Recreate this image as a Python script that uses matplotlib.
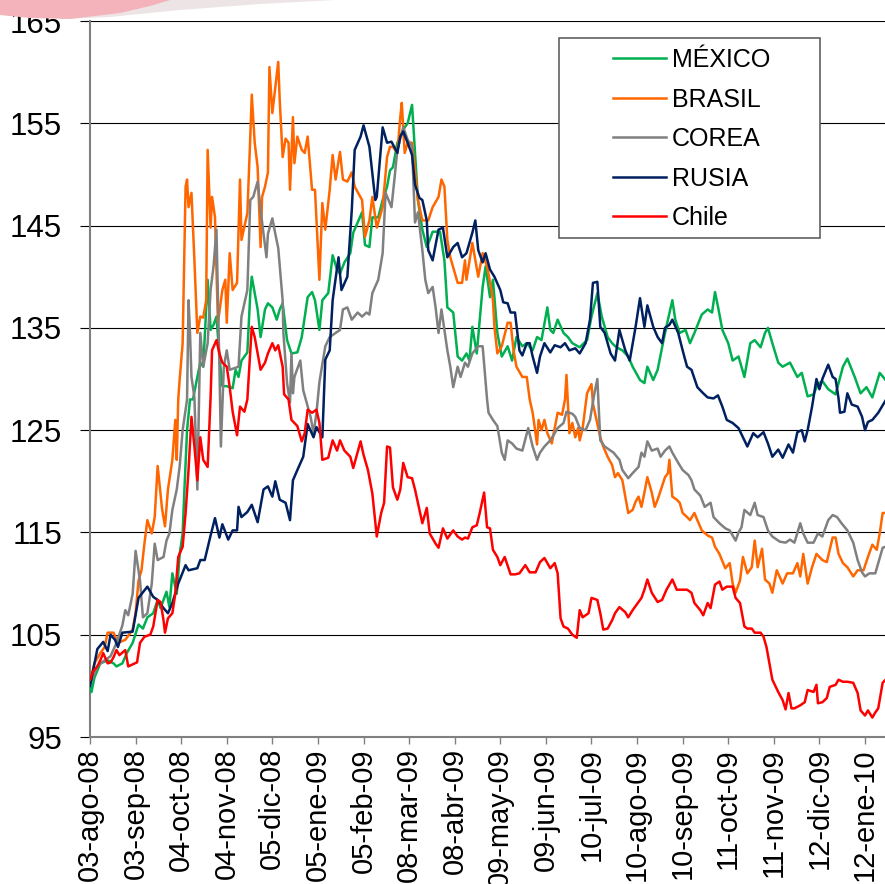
import matplotlib
matplotlib.use("Agg")
import matplotlib.pyplot as plt
from matplotlib.patches import Rectangle, Polygon

plt.rcParams['font.family'] = ['Liberation Sans', 'DejaVu Sans']

# x = days since 03-ago-08, y = index (base 100)
tick_labels = ["03-ago-08", "03-sep-08", "04-oct-08", "04-nov-08", "05-dic-08",
               "05-ene-09", "05-feb-09", "08-mar-09", "08-abr-09", "09-may-09",
               "09-jun-09", "10-jul-09", "10-ago-09", "10-sep-09", "11-oct-09",
               "11-nov-09", "12-dic-09", "12-ene-10"]
tick_step = 31
last_day = 540.6

mexico = [(0, 100), (1, 99.4), (3, 100.8), (7, 102.2), (12, 102.5), (16, 102.2), (18, 101.9), (22, 102.2),
          (25, 103.2), (29, 104.2), (33, 106), (36, 105.6), (39, 106.7), (43, 107.1), (46, 108.4),
          (48, 107.6), (52, 109.2), (54, 107.7), (56, 111), (59, 109), (61, 112.9), (63, 114.9),
          (64, 118.5), (65, 121.8), (66, 125), (68, 128), (70, 128), (73, 130.2), (75, 131.6),
          (77, 131.2), (80, 139.7), (82, 134.8), (84, 135.3), (86, 136.1), (88, 132.2), (90, 129.3),
          (93, 129.3), (97, 129.1), (99, 130.9), (101, 130.2), (103, 131.8), (107, 132.6), (109, 138.4),
          (110, 140), (114, 136.8), (116, 134.1), (119, 136.8), (121, 137.4), (124, 137), (127, 135.8),
          (129, 136.8), (131, 137.4), (134, 133.8), (137, 132.5), (141, 132.6), (144, 134.1), (148, 138),
          (151, 138.5), (153, 137.7), (156, 134.8), (158, 137.7), (162, 138.4), (165, 142.1), (168, 140.7),
          (170, 140.3), (173, 141.4), (177, 142.3), (179, 144.3), (182, 145.3), (185, 146.3), (187, 143.1),
          (190, 142.9), (192, 145.8), (196, 145.8), (199, 147.5), (202, 148.8), (204, 150.4), (206, 150.7),
          (209, 153.1), (212, 154), (214, 154.6), (216, 155), (219, 156.8), (221, 152.1), (223, 147.5),
          (226, 144.6), (229, 142.9), (231, 143.6), (233, 144.4), (238, 144.4), (241, 141.6), (243, 137),
          (247, 136.5), (250, 132.2), (253, 131.8), (256, 132.5), (258, 131.8), (260, 135.1), (263, 132.5),
          (267, 139), (269, 141), (272, 138), (274, 139.7), (277, 134.5), (280, 132.2), (284, 133.2),
          (287, 131.8), (290, 134.1), (294, 133.2), (297, 133.5), (301, 132.8), (304, 134.1), (307, 133.8),
          (311, 137), (313, 134.8), (315, 134.5), (318, 135.8), (322, 134.5), (325, 134.1), (328, 133.5),
          (333, 133.1), (338, 133.8), (341, 136.1), (345, 138.4), (348, 136.1), (352, 134.1), (355, 133.5),
          (358, 133.1), (362, 132.8), (366, 132.2), (369, 131.2), (374, 129.9), (377, 129.6), (379, 131.2),
          (383, 129.9), (386, 130.9), (390, 133.8), (393, 135.8), (396, 137.7), (398, 135.8), (401, 134.5),
          (405, 134.8), (408, 133.5), (411, 134.5), (416, 136.3), (420, 136.8), (423, 136.5), (425, 138.5),
          (427, 137.1), (430, 134.8), (434, 133.5), (437, 131.8), (441, 132.2), (445, 130.2), (449, 133.5),
          (452, 133.8), (456, 133.1), (459, 134.5), (461, 135), (464, 133.5), (468, 131.6), (471, 131.2),
          (476, 131.6), (481, 130.2), (484, 130.6), (488, 128.3), (492, 128.5), (495, 129.5), (498, 129.8),
          (502, 129), (507, 128.5), (512, 131.2), (515, 132), (520, 130.2), (524, 128.6), (528, 129.2),
          (532, 128.2), (537, 130.6), (541, 129.9)]

brasil = [(0, 100.3), (3, 102.2), (7, 103.2), (10, 103.8), (12, 105.2), (16, 105.2), (19, 104.2), (24, 104.5),
          (29, 105.5), (31, 107.1), (33, 110.3), (35, 111.3), (37, 113.9), (39, 116.2), (42, 114.9),
          (44, 116.5), (46, 121.5), (49, 117.3), (51, 115.6), (53, 119.2), (56, 122.1), (58, 126),
          (59, 122.1), (60, 128), (61, 130), (63, 133.5), (65, 148.8), (66, 149.5), (67, 146.8), (69, 148.2),
          (71, 141.6), (73, 134.5), (75, 136.1), (77, 136), (79, 137.7), (80, 152.4), (82, 144.8),
          (83, 147.8), (85, 145.8), (87, 135.5), (90, 138.7), (92, 139.7), (93, 135.5), (95, 142.3),
          (97, 138.7), (100, 139.4), (102, 149.5), (103, 143.6), (107, 146.2), (109, 153.7), (110, 157.8),
          (112, 153.1), (114, 150.7), (116, 142.9), (117, 147.8), (119, 148.8), (121, 150.2), (122, 160.5),
          (124, 156), (126, 158.5), (128, 161), (129, 157.3), (131, 151.7), (133, 153.5), (135, 153.1),
          (136, 148.5), (138, 155.6), (139, 151.1), (141, 153.7), (144, 152.4), (146, 152.1), (148, 153.7),
          (151, 148.5), (153, 148.5), (156, 139.7), (158, 147.2), (160, 144.6), (163, 148.5), (165, 151.9),
          (167, 149.5), (170, 152.2), (172, 149.5), (175, 149.3), (178, 150.2), (180, 148.8), (185, 147.5),
          (187, 143.9), (190, 145.5), (192, 147.8), (195, 144.8), (199, 146.8), (202, 151.7), (204, 152.7),
          (206, 152.7), (209, 152.1), (211, 155.6), (212, 157), (214, 152.1), (216, 153.1), (219, 153.1),
          (221, 150.4), (223, 147.5), (226, 145.5), (230, 145.5), (233, 146.8), (237, 147.8), (239, 149.5),
          (241, 148.8), (243, 143.6), (245, 141.9), (250, 139.4), (253, 139.4), (255, 141.6), (256, 139.7),
          (260, 143.3), (264, 140), (267, 142.3), (270, 141), (273, 138.7), (274, 137.7), (275, 135.1),
          (277, 132.5), (280, 133.2), (284, 135.5), (286, 135.5), (288, 132.8), (290, 131.2), (294, 130.2),
          (297, 130.2), (299, 128), (301, 126.7), (302, 125.7), (304, 123.6), (305, 126), (307, 125),
          (309, 126), (311, 124.7), (314, 123.7), (318, 126.7), (321, 126.5), (323, 128), (324, 130.4),
          (326, 124.7), (328, 125.7), (330, 124.3), (332, 125.2), (333, 124), (335, 125.2), (338, 128.6),
          (341, 129.5), (342, 127.6), (347, 124.3), (349, 123.4), (352, 122.4), (355, 121.6), (357, 120.4),
          (359, 120.8), (362, 120.1), (364, 118.5), (366, 116.9), (369, 117.2), (371, 118), (373, 118.5),
          (375, 117.5), (377, 118.9), (379, 120.4), (382, 118.9), (384, 117.5), (386, 118.2), (389, 119.5),
          (391, 120.4), (393, 120.8), (394, 122.1), (396, 118.5), (399, 118.2), (401, 117.9), (403, 116.9),
          (406, 116.5), (408, 116.2), (411, 116.9), (413, 116.2), (416, 115.2), (420, 114.7), (423, 114.5),
          (425, 113.6), (428, 112.9), (432, 111.5), (435, 112), (437, 110), (439, 109.1), (442, 110.3),
          (444, 112.6), (447, 111), (450, 111.6), (452, 114.2), (454, 111.6), (457, 113.4), (459, 110.4),
          (462, 110), (464, 109.1), (467, 111.3), (471, 110), (474, 111), (478, 111), (481, 112),
          (483, 110.7), (485, 112.9), (488, 110), (491, 111.6), (494, 112.9), (498, 112.3), (501, 112.1),
          (505, 114.5), (507, 114.5), (509, 112.9), (512, 112), (515, 111.6), (519, 110.7), (522, 111.3),
          (526, 111.3), (529, 112.6), (532, 113.8), (535, 113.3), (537, 114.9), (539, 116.9), (541, 116.9)]

corea = [(0, 100.1), (5, 101.9), (9, 102.4), (14, 102.9), (18, 104.2), (22, 105.9), (24, 107.4), (26, 106.9),
         (29, 109), (31, 113.2), (34, 110.3), (36, 106.7), (39, 107.1), (42, 110), (44, 113.9), (46, 112.3),
         (50, 112.6), (52, 114.2), (54, 114.9), (56, 117.2), (59, 119.2), (61, 121.5), (63, 125), (66, 128),
         (67, 137.7), (68, 134.5), (69, 130.2), (71, 128.2), (73, 119.2), (75, 134.5), (77, 131.2),
         (80, 133.5), (82, 138.7), (84, 141), (86, 144.6), (88, 131.2), (89, 123.4), (91, 131.2),
         (93, 132.8), (95, 130.9), (101, 131.2), (103, 136.1), (107, 138.7), (109, 147.5), (111, 147.8),
         (114, 149.3), (116, 146.5), (118, 144.2), (120, 141.9), (121, 144.2), (124, 145.7), (126, 144.2),
         (128, 142.8), (131, 137.7), (131.5, 134.5), (134, 129.6), (136, 127.7), (137, 132.5), (138, 128.6),
         (139, 130.2), (143, 131.8), (145, 128.9), (150, 126.3), (152, 124.7), (154, 126.7), (156, 129.7),
         (160, 133.2), (163, 134.1), (167, 134.5), (170, 134.8), (172, 136.8), (175, 137), (178, 135.8),
         (182, 136.5), (185, 136.1), (188, 136.5), (190, 136.3), (192, 138.4), (196, 139.7), (199, 142.3),
         (201, 148.2), (203, 147.5), (205, 146.8), (207, 149.5), (209, 152.4), (213, 154.6), (216, 153.4),
         (219, 152.7), (221, 145.3), (223, 146.3), (226, 142.6), (228, 139.7), (230, 138.4), (233, 139),
         (235, 137), (237, 134.5), (239, 136.8), (243, 132.8), (245, 131.2), (247, 129.2), (250, 131.2),
         (252, 130.2), (255, 131.6), (257, 131.2), (260, 132.5), (264, 133.2), (267, 133.2), (270, 128),
         (271, 126.7), (274, 126), (277, 125.4), (280, 122.8), (282, 122.1), (284, 124), (287, 123.7),
         (290, 123.2), (294, 123), (298, 125.2), (301, 123.4), (304, 122.1), (306, 122.8), (309, 123.4),
         (313, 124), (316, 124.7), (318, 125.2), (322, 125.7), (324, 126.8), (328, 126.6), (330, 126.3),
         (333, 125.2), (337, 125), (340, 126), (343, 128.6), (345, 130), (347, 124), (350, 123.4),
         (354, 123), (356, 122.8), (360, 122.1), (362, 121.1), (366, 120.3), (369, 120.8), (373, 121.4),
         (375, 122.8), (377, 122.4), (379, 123.9), (382, 123), (386, 123.2), (388, 122.4), (391, 123),
         (394, 123.4), (396, 122.8), (400, 121.8), (403, 121.1), (407, 120.6), (409, 120.1), (411, 119.2),
         (415, 118.6), (418, 117.5), (422, 117.9), (424, 116.5), (428, 115.9), (432, 115.4), (435, 115.2),
         (439, 114.2), (441, 115), (443, 115.5), (445, 117.2), (449, 116.7), (452, 117.9), (454, 116.7),
         (458, 116.5), (461, 115.2), (464, 114.6), (469, 114.1), (473, 114), (476, 114.3), (479, 114),
         (483, 115.9), (485, 114.9), (488, 114), (492, 114), (495, 114.9), (498, 114.6), (502, 116.2),
         (505, 116.7), (508, 116.5), (511, 115.9), (515, 115.2), (519, 114), (522, 112.3), (525, 111.1),
         (527, 110.7), (530, 111), (534, 111), (536, 112), (539, 113.5), (541, 113.6)]

rusia = [(0, 100), (5, 103.6), (9, 104.3), (12, 103.4), (14, 105), (17, 104.5), (19, 103.8), (22, 105.2),
         (29, 105.3), (33, 108.6), (39, 109.7), (43, 108.7), (46, 108.4), (50, 107.6), (53, 107.1),
         (56, 108.1), (60, 110), (65, 111.8), (67, 111.3), (73, 111.5), (75, 112.3), (78, 112.3),
         (82, 114.7), (85, 116.4), (88, 114.5), (90, 115.8), (94, 114.3), (97, 115.2), (100, 115.2),
         (101, 117.5), (103, 116.5), (107, 117), (110, 117.7), (114, 116), (118, 119.2), (121, 119.5),
         (124, 118.5), (126, 120), (129, 118.2), (133, 117.9), (136, 116.2), (138, 120.1), (141, 121.1),
         (145, 122.4), (148, 125.6), (152, 124.3), (154, 125.3), (158, 124.3), (159, 128), (160, 131.9),
         (163, 132.8), (165, 137.7), (169, 141.9), (171, 138.7), (175, 140), (178, 146.5), (180, 152.4),
         (184, 153.7), (186, 154.8), (190, 152.7), (194, 147.5), (195, 147.8), (199, 154.6), (202, 153.1),
         (205, 153.2), (209, 152.1), (211, 153.7), (213, 154.2), (216, 153.1), (219, 151.9), (221, 149),
         (224, 147.7), (226, 147.5), (229, 145.5), (230, 142.6), (233, 141.6), (237, 144.6), (240, 144.8),
         (243, 141.9), (247, 142.9), (250, 143.3), (253, 141.9), (256, 142.3), (260, 144.3), (262, 145.5),
         (264, 142.6), (267, 141.4), (269, 142.3), (272, 140.7), (275, 140), (279, 138.7), (281, 137.5),
         (284, 137.4), (286, 136.5), (289, 136.5), (292, 132.8), (294, 132.3), (297, 133.5), (299, 133.5),
         (301, 132.2), (304, 130.6), (306, 132.2), (309, 133.5), (313, 132.6), (316, 133.3), (320, 133.1),
         (323, 133.5), (326, 132.8), (330, 133), (333, 132.5), (337, 133.5), (340, 135.8), (342, 139.4),
         (345, 139.5), (347, 135.1), (350, 134.5), (354, 132.5), (357, 131.8), (360, 134.8), (364, 132.8),
         (367, 131.8), (371, 135.1), (374, 137.9), (377, 135.1), (379, 137.2), (383, 135.1), (386, 134.1),
         (389, 133.5), (391, 135), (394, 135.3), (396, 135.8), (400, 134.5), (403, 132.8), (406, 131.2),
         (409, 130.9), (413, 129.2), (417, 128.6), (420, 128.2), (424, 128.1), (427, 128.4), (430, 127.3),
         (433, 126), (437, 125.7), (441, 125.2), (444, 124.3), (447, 123.4), (451, 124.7), (454, 124.3),
         (458, 124.8), (461, 123.7), (464, 122.4), (468, 123.1), (471, 122.3), (475, 123.6), (478, 122.8),
         (481, 124.8), (484, 125), (486, 123.9), (488, 125), (491, 127.3), (494, 130), (496, 129),
         (498, 130), (502, 131.4), (505, 130.2), (507, 130), (509, 128.1), (510, 126.7), (513, 126.8),
         (515, 128.6), (518, 127.5), (522, 127.3), (525, 126.3), (527, 125), (529, 125.8), (532, 126),
         (536, 126.7), (541, 127.9)]

chile = [(0, 100.6), (2, 101.4), (5, 101.9), (7, 102.5), (9, 103.2), (12, 102.2), (14, 102.3), (16, 102.8),
         (18, 103.5), (20, 103), (24, 103.5), (26, 101.9), (29, 102.1), (32, 102.3), (34, 104.2), (37, 104.8),
         (41, 105), (43, 105.8), (46, 108.4), (48, 108.2), (50, 106.4), (51, 105.2), (53, 106.6), (56, 107.1),
         (58, 109), (60, 112.6), (63, 113.6), (65, 116.9), (67, 121.1), (69, 126.3), (71, 123.4), (73, 120.1),
         (75, 124.3), (77, 122.1), (80, 121.4), (82, 128.2), (83, 132.8), (86, 133.8), (88, 132.5),
         (90, 131.6), (93, 131.2), (95, 129.2), (97, 126.8), (100, 124.5), (102, 127.3), (105, 126.8),
         (107, 128), (110, 135.1), (112, 134.1), (116, 130.9), (119, 131.6), (121, 132.5), (124, 133.5),
         (126, 132.8), (128, 133.3), (131, 131.2), (132, 128.5), (135, 128), (137, 126), (141, 125.4),
         (144, 123.9), (146, 124.7), (148, 127), (151, 126.7), (154, 127), (156, 125.7), (158, 122.1),
         (162, 122.3), (165, 124), (168, 123), (170, 124), (173, 123), (177, 122.4), (179, 121.3),
         (184, 123.9), (186, 122.6), (189, 121.1), (192, 118.8), (195, 114.6), (198, 116.9), (200, 117.9),
         (202, 123.4), (204, 123.3), (206, 119.4), (209, 118.2), (211, 119.2), (213, 121.8), (216, 120.4),
         (219, 120.3), (221, 119.2), (224, 117.2), (226, 115.9), (229, 117.4), (231, 114.9), (235, 113.9),
         (237, 113.5), (240, 115.4), (243, 114.4), (247, 115.2), (250, 114.6), (253, 114.3), (255, 114.5),
         (257, 114.4), (260, 115.5), (263, 115.7), (265, 116.9), (268, 118.9), (270, 115.5), (272, 115.4),
         (274, 113.3), (277, 112.6), (279, 111.8), (282, 112.6), (286, 110.9), (289, 110.9), (292, 111),
         (296, 111.8), (299, 111.1), (303, 111.1), (306, 112.1), (309, 112.5), (313, 111.5), (316, 112),
         (318, 111), (320, 106.6), (322, 105.8), (325, 105.6), (328, 105), (331, 104.7), (333, 107.4),
         (335, 106.7), (339, 107.1), (341, 108.6), (345, 108.4), (347, 107.1), (349, 105.5), (352, 105.6),
         (355, 106.4), (357, 107.1), (360, 107.7), (364, 107.2), (366, 106.7), (369, 107.4), (373, 108.2),
         (375, 108.6), (377, 109.4), (379, 110.4), (382, 109.1), (386, 108.2), (389, 108.4), (392, 109.4),
         (396, 110.4), (399, 109.4), (403, 109.4), (406, 109.4), (409, 109.1), (411, 108.1), (415, 107.4),
         (417, 106.9), (420, 108.1), (422, 107.6), (425, 109.9), (428, 110.2), (430, 109.4), (433, 109.7),
         (437, 109.7), (439, 108.6), (442, 108.1), (445, 105.8), (447, 105.6), (450, 105.6), (452, 105.2),
         (456, 105.2), (458, 104.8), (460, 103.8), (462, 102.2), (464, 100.6), (468, 99.4), (471, 98.6),
         (473, 97.7), (475, 99.3), (477, 97.8), (479, 97.8), (483, 98.1), (486, 98.4), (488, 99.6),
         (492, 99.4), (494, 100.1), (495, 98.3), (498, 98.4), (501, 98.8), (503, 99.9), (507, 100.1),
         (509, 100.6), (512, 100.4), (515, 100.4), (519, 100.3), (522, 99.3), (524, 97.6), (527, 97.1),
         (529, 97.6), (532, 96.9), (534, 97.4), (536, 97.8), (539, 100.3), (541, 100.6)]

series = [("MÉXICO", mexico, "#00B050"),
          ("BRASIL", brasil, "#FF6600"),
          ("COREA", corea, "#808080"),
          ("RUSIA", rusia, "#002060"),
          ("Chile", chile, "#FF0000")]

fig = plt.figure(figsize=(8.85, 8.84), dpi=100)


def fig_pt(px, py):
    return (px / 885, 1 - py / 884)


# faint logo swoosh in the top left corner: pale grey tail, pink head
tail = Polygon([fig_pt(*p) for p in [(60, 0), (60, 19), (110, 17), (180, 10), (260, 4), (335, 0)]],
               closed=True, transform=fig.transFigure, facecolor="#ece4e5", edgecolor="none")
head = Polygon([fig_pt(*p) for p in [(0, 0), (0, 15), (30, 18), (70, 19), (120, 13), (150, 6), (170, 0)]],
               closed=True, transform=fig.transFigure, facecolor="#f4b2bb", edgecolor="none")
fig.patches.extend([tail, head])

ax = fig.add_axes([90 / 885, 1 - 737 / 884, 795 / 885, 716 / 884])

for name, pts, color in series:
    xs = [p[0] for p in pts]
    ys = [p[1] for p in pts]
    ax.plot(xs, ys, color=color, lw=1.8, label=name, zorder=3)

ax.set_xlim(0, last_day)
ax.set_ylim(95, 165)
ax.set_yticks(range(95, 166, 10))
ax.set_xticks([i * tick_step for i in range(len(tick_labels))])
ax.set_xticklabels(tick_labels, rotation=90, fontsize=21)
ax.tick_params(axis="y", labelsize=22.5, length=7.2, width=0.8, color="black", pad=13)
ax.tick_params(axis="x", length=5, width=1, color="#808080", pad=3)

ax.yaxis.grid(True, color="black", lw=0.8)
ax.set_axisbelow(True)
for side in ("top", "right"):
    ax.spines[side].set_visible(False)
ax.spines["left"].set_color("#808080")
ax.spines["left"].set_linewidth(1.5)
ax.spines["bottom"].set_color("#808080")
ax.spines["bottom"].set_linewidth(1.5)

# legend frame drawn by hand: wide side padding
box = Rectangle((0.590, 0.697), 0.328, 0.279, transform=ax.transAxes,
                facecolor="white", edgecolor="#606060", lw=1.2, zorder=4)
ax.add_patch(box)
leg = ax.legend(loc="upper left", bbox_to_anchor=(0.658, 0.962), frameon=False,
                fontsize=18, handlelength=2.1, handletextpad=0.25, labelspacing=0.62,
                borderpad=0, borderaxespad=0)
leg.set_zorder(5)

fig.savefig("out.png", dpi=100)
